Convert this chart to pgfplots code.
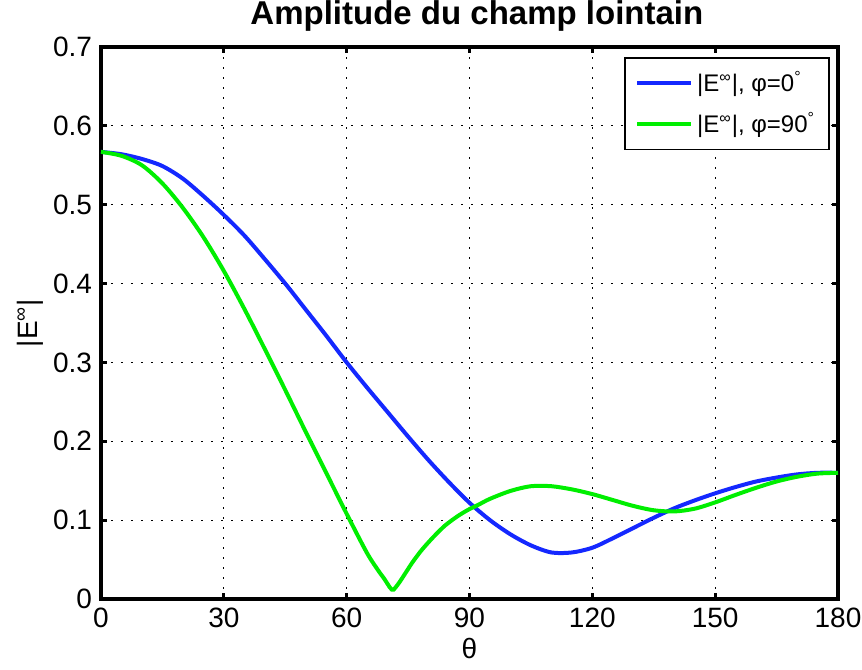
\documentclass[border=0pt]{standalone}
\usepackage{fontspec}
\setmainfont{Liberation Sans}
\usepackage{pgfplots}
\pgfplotsset{compat=1.18}

\definecolor{mblue}{RGB}{20,40,255}
\definecolor{mgreen}{RGB}{0,238,0}

\begin{document}
\begin{tikzpicture}
\begin{axis}[
  scale only axis,
  width=368.5pt, height=276pt,
  xmin=0, xmax=180, ymin=0, ymax=0.7,
  xtick={0,30,...,180},
  ytick={0,0.1,...,0.7},
  yticklabels={0,0.1,0.2,0.3,0.4,0.5,0.6,0.7},
  /pgf/number format/assume math mode=true,
  tick align=inside,
  major tick length=3pt,
  tick style={black, line width=1.5pt},
  axis line style={line width=2pt},
  grid=major,
  major grid style={black, line width=0.6pt, dash pattern=on 0.8pt off 4.2pt},
  ticklabel style={font=\fontsize{14}{16}\selectfont},
  xticklabel style={yshift=-1pt},
  yticklabel style={xshift=-1pt},
  title={\textbf{Amplitude du champ lointain}},
  title style={font=\fontsize{16.5}{18}\selectfont, at={(axis description cs:0.51,1)}, anchor=base, yshift=5pt},
  xlabel={θ},
  xlabel style={font=\fontsize{14}{16}\selectfont, at={(axis description cs:0.5,0)}, anchor=center, yshift=-25pt},
  ylabel={|E\textsuperscript{∞}|},
  ylabel style={font=\fontsize{14}{16}\selectfont, at={(axis description cs:-0.0963,0.5)}, anchor=center},
  legend style={at={(rel axis cs:0.989,0.982)}, anchor=north east,
    draw=black, line width=0.8pt, fill=white,
    font=\fontsize{12}{14}\selectfont,
    inner xsep=5pt, inner ysep=5pt, row sep=5pt},
  legend cell align=left,
  legend image code/.code={\draw[#1, line width=2pt] (0pt,0pt) -- (27pt,0pt);},
]
% phi = 0 cut
\addplot[mblue, line width=2pt, smooth] coordinates {
(0,0.567) (5,0.564) (10,0.558) (15,0.549) (20,0.533) (25,0.511) (30,0.487)
(35,0.461) (40,0.431) (45,0.400) (50,0.367) (55,0.334) (60,0.300)
(65,0.268) (70,0.237) (75,0.206) (80,0.176) (85,0.148) (90,0.122) (95,0.100)
(100,0.082) (105,0.068) (110,0.059) (115,0.059) (120,0.065) (125,0.077)
(130,0.090) (135,0.103) (140,0.115) (145,0.125)
(150,0.134) (155,0.142) (160,0.149) (165,0.154) (170,0.158) (175,0.160) (180,0.160)
};
\addlegendentry{|E\textsuperscript{∞}|, φ=0\textsuperscript{°}}
% phi = 90 cut
\addplot[mgreen, line width=2pt, smooth] coordinates {
(0,0.567) (5,0.562) (10,0.550) (15,0.527) (20,0.496) (25,0.459) (30,0.416)
(35,0.368) (40,0.317) (45,0.265) (50,0.212) (55,0.160) (60,0.108) (65,0.058)
(68,0.034) (69,0.027) (70,0.019) (70.5,0.015) (71,0.012) (71.5,0.012) (72,0.015)
(73,0.022) (74,0.030) (75,0.038) (76,0.046) (78,0.060) (80,0.072) (82,0.083)
(84,0.093) (86,0.101) (88,0.108) (90,0.114) (92,0.119) (95,0.127) (100,0.137)
(105,0.143) (110,0.143) (115,0.139) (120,0.133) (125,0.1255)
(130,0.118) (135,0.1125) (140,0.111) (145,0.1145) (150,0.1225)
(155,0.132) (160,0.141) (165,0.149) (170,0.155) (175,0.159) (180,0.160)
};
\addlegendentry{|E\textsuperscript{∞}|, φ=90\textsuperscript{°}}
\end{axis}
\pgfresetboundingbox
\path ([xshift=-50.5pt,yshift=-35.5pt]current axis.south west) rectangle ([xshift=12pt,yshift=23.5pt]current axis.north east);
\end{tikzpicture}
\end{document}
